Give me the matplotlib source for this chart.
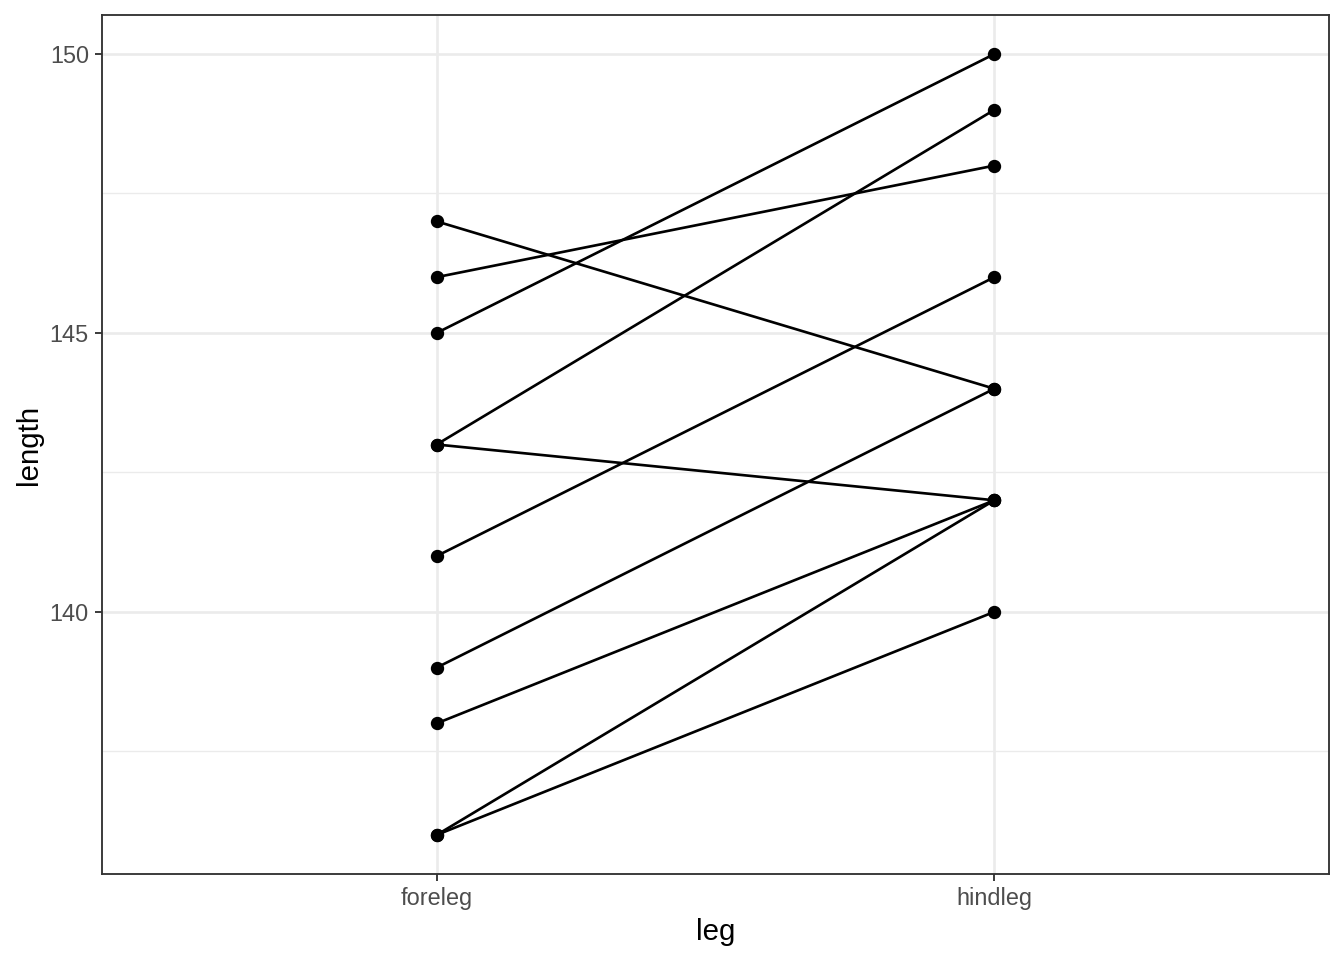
import matplotlib
matplotlib.use('Agg')
import matplotlib.pyplot as plt

plt.rcParams['font.family'] = ['Liberation Sans', 'DejaVu Sans']

legs = ['foreleg', 'hindleg']
foreleg = [147, 146, 145, 143, 143, 141, 139, 138, 136, 136]
hindleg = [144, 148, 150, 149, 142, 146, 144, 142, 142, 140]

fig = plt.figure(figsize=(7, 5), dpi=192)
ax = fig.add_axes([102 / 1344, 1 - 874 / 960, (1329 - 102) / 1344, (874 - 15) / 960])

for f, h in zip(foreleg, hindleg):
    ax.plot(legs, [f, h], color='black', lw=1.0, zorder=3)
    ax.plot(legs, [f, h], 'o', color='black', ms=4.0, zorder=4)

ax.set_xlim(-0.6, 1.6)
ax.set_ylim(135.3, 150.7)
ax.set_yticks([140, 145, 150])
ax.set_yticks([137.5, 142.5, 147.5], minor=True)

ax.grid(True, which='major', color='#EBEBEB', lw=1.0, zorder=0)
ax.grid(True, which='minor', axis='y', color='#EBEBEB', lw=0.5, zorder=0)
ax.set_axisbelow(True)

for s in ax.spines.values():
    s.set_color('#333333')
    s.set_linewidth(0.7)

ax.tick_params(which='major', length=2.75, width=0.7, color='#333333',
               labelsize=8.8, labelcolor='#4D4D4D', pad=2.2)
ax.tick_params(which='minor', length=0)

ax.set_xlabel('leg', fontsize=11, labelpad=3)
ax.set_ylabel('length', fontsize=11, labelpad=2.5)

fig.savefig('out.png', dpi=192)
